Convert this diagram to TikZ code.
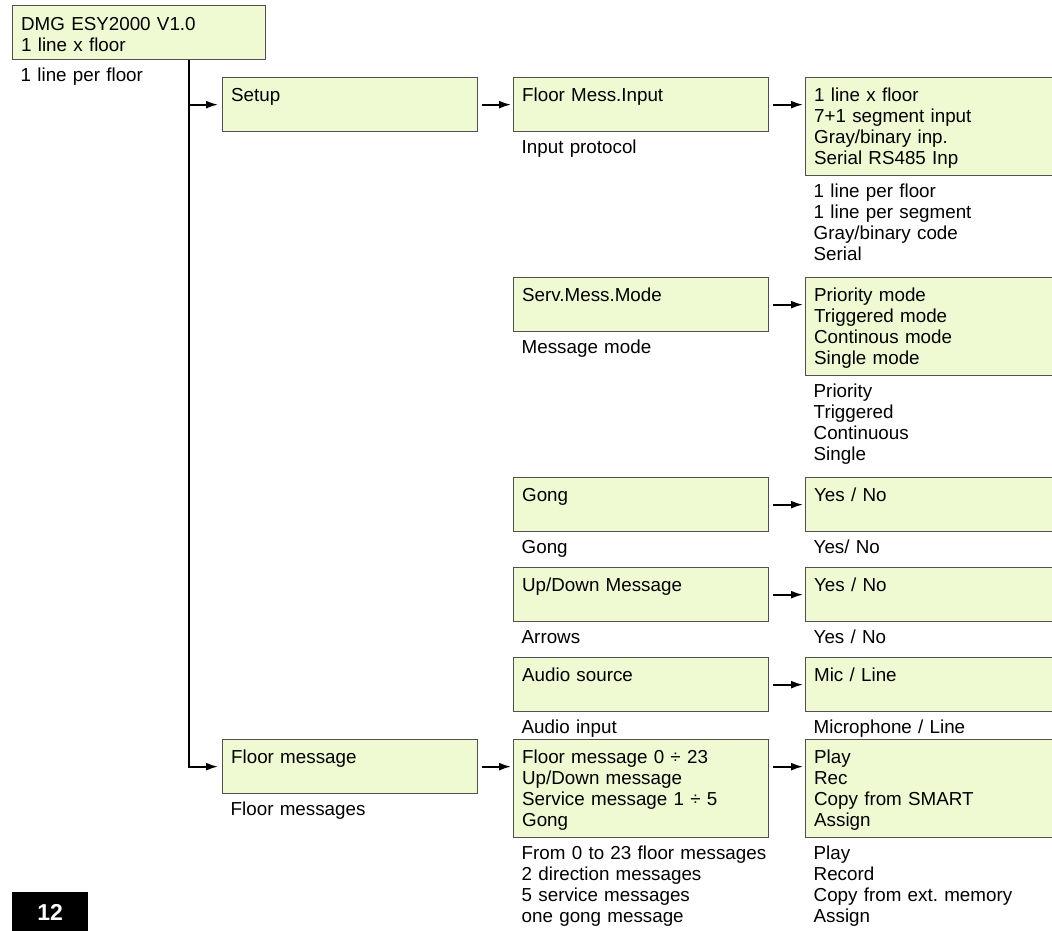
\documentclass[tikz,border=0pt]{standalone}
\usepackage{fontspec}
\setmainfont{Liberation Sans}
\usetikzlibrary{arrows.meta,positioning}
\frenchspacing

\definecolor{boxfill}{RGB}{240,250,210}
\definecolor{boxline}{RGB}{80,80,80}

\tikzset{
	menubox/.style={draw=boxline, line width=1.3pt, fill=boxfill, anchor=north west,
		text width=238pt, align=left, inner xsep=8.5pt, inner ysep=0pt,
		text height=23.5pt, text depth=30.5pt},
	tallbox/.style={menubox, text depth=74.5pt},
	note/.style={anchor=north west, text width=300pt, align=left, inner sep=0pt, text height=21pt, xshift=8.5pt},
	link/.style={line width=1.8pt, -{Latex[length=12pt,width=8pt]}, shorten <=4pt, shorten >=2pt},
	every node/.style={font=\fontsize{18.8}{21}\selectfont}
}

\begin{document}
\begin{tikzpicture}[x=1pt, y=-1pt]
	\useasboundingbox (0,0) rectangle (1052,930);
	\clip (0,0) rectangle (1052,930);

	\node [menubox, text width=236pt, text height=24.5pt, text depth=29.5pt] (top) at (12,5) {DMG ESY2000 V1.0\\1 line x floor};
	\node [note] (toplbl) at (top.south west) {1 line per floor};
	\coordinate (trunk) at (189,0);

	\node [menubox] (setup) at (222,77) {Setup};
	\node [menubox] (fmi) at (513,77) {Floor Mess.Input};
	\node [note] (fmilbl) at (fmi.south west) {Input protocol};
	\node [tallbox] (fmiopt) at (805,77) {1 line x floor\\7+1 segment input\\Gray/binary inp.\\Serial RS485 Inp};
	\node [note] (fmioptlbl) at (fmiopt.south west) {1 line per floor\\1 line per segment\\Gray/binary code\\Serial};

	\node [menubox] (serv) at (513,277) {Serv.Mess.Mode};
	\node [note] (servlbl) at (serv.south west) {Message mode};
	\node [tallbox] (servopt) at (805,277) {Priority mode\\Triggered mode\\Continous mode\\Single mode};
	\node [note] (servoptlbl) at (servopt.south west) {Priority\\Triggered\\Continuous\\Single};

	\node [menubox] (gong) at (513,477) {Gong};
	\node [note] (gonglbl) at (gong.south west) {Gong};
	\node [menubox] (gongopt) at (805,477) {Yes / No};
	\node [note] (gongoptlbl) at (gongopt.south west) {Yes/ No};

	\node [menubox] (updown) at (513,567) {Up/Down Message};
	\node [note] (updownlbl) at (updown.south west) {Arrows};
	\node [menubox] (updownopt) at (805,567) {Yes / No};
	\node [note] (updownoptlbl) at (updownopt.south west) {Yes / No};

	\node [menubox] (audio) at (513,657) {Audio source};
	\node [note] (audiolbl) at (audio.south west) {Audio input};
	\node [menubox] (audioopt) at (805,657) {Mic / Line};
	\node [note] (audiooptlbl) at (audioopt.south west) {Microphone / Line};

	\node [menubox] (fmsg) at (222,739) {Floor message};
	\node [note] (fmsglbl) at (fmsg.south west) {Floor messages};
	\node [tallbox] (fmlist) at (513,739) {Floor message 0 ÷ 23\\Up/Down message\\Service message 1 ÷ 5\\Gong};
	\node [note] (fmlistlbl) at (fmlist.south west) {From 0 to 23 floor messages\\2 direction messages\\5 service messages\\one gong message};
	\node [tallbox] (fmopt) at (805,739) {Play\\Rec\\Copy from SMART\\Assign};
	\node [note] (fmoptlbl) at (fmopt.south west) {Play\\Record\\Copy from ext. memory\\Assign};

	\draw [link, shorten <=0pt, shorten >=4pt] (trunk |- top.south) |- (fmsg.west);
	\draw [link, shorten <=0pt, shorten >=4pt] (trunk |- setup.west) -- (setup.west);
	\draw [link] (setup.east) -- (fmi.west);
	\draw [link] (fmi.east) -- (fmi.east -| fmiopt.west);
	\draw [link] (serv.east) -- (serv.east -| servopt.west);
	\draw [link] (gong.east) -- (gongopt.west);
	\draw [link] (updown.east) -- (updownopt.west);
	\draw [link] (audio.east) -- (audioopt.west);
	\draw [link] (fmsg.east) -- (fmsg.east -| fmlist.west);
	\draw [link] (fmlist.east |- fmsg.east) -- (fmsg.east -| fmopt.west);

	\node [fill=black, text=white, font=\fontsize{23}{26}\bfseries, anchor=north west,
		minimum width=76pt, minimum height=40pt, inner sep=0pt] (pagenum) at (12,892) {12};
\end{tikzpicture}
\end{document}
